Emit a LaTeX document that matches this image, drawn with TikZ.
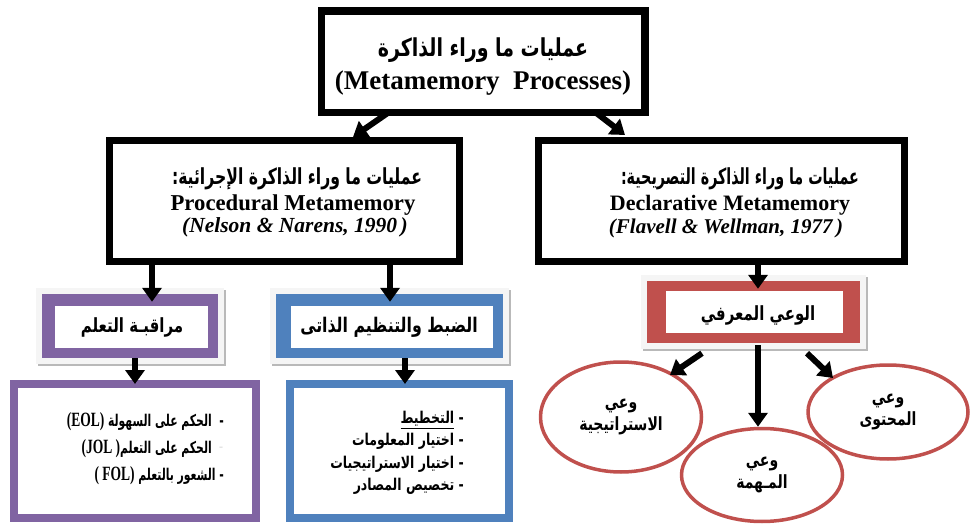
\documentclass[tikz,border=0pt]{standalone}
\usepackage{fontspec}
\usepackage{graphicx}
\setmainfont{Liberation Serif}
\newfontfamily\arabicfont[Script=Arabic]{DejaVu Sans}
\TeXXeTstate=1
\usetikzlibrary{arrows.meta,shapes.geometric,backgrounds}
\definecolor{cpur}{HTML}{8064A2}
\definecolor{cblu}{HTML}{4F81BD}
\definecolor{cred}{HTML}{C0504D}
\newcommand{\latin}[1]{\hbox{\rmfamily\bfseries\fontsize{15}{15}\selectfont #1}}
\begin{document}
\begin{tikzpicture}[x=1pt,y=-1pt,
  bigarrow/.style={line width=6pt,-{Triangle[length=14pt,width=19pt]}},
  blackframe/.style={draw=black,line width=7pt,fill=white,inner sep=0pt},
  colorbox/.style={fill=#1,inner sep=0pt},
  listframe/.style={draw=#1,line width=7pt,fill=white,inner sep=0pt},
  oval/.style={ellipse,draw=cred,line width=3.5pt,inner sep=0pt,align=center,
    font=\arabicfont\bfseries\fontsize{14}{22}\selectfont},
  artxt/.style={inner sep=0pt,align=center,font=\arabicfont\bfseries\fontsize{#1}{#1}\selectfont},
  entxt/.style={inner sep=0pt,align=center,font=\bfseries\fontsize{#1}{#1}\selectfont},
  ittxt/.style={inner sep=0pt,align=center,font=\bfseries\itshape\fontsize{#1}{#1}\selectfont}]
\useasboundingbox (0,0) rectangle (971,526);

% top box
\node[blackframe,minimum width=324pt,minimum height=102pt] (top) at (483,62) {};
\draw[line width=1.5pt] ([shift={(7,7)}]top.north west) rectangle ([shift={(-7,-7)}]top.south east);
\node[artxt=19] (t1) at (483,50) {\scalebox{1}[1.3]{\beginR عمليات ما وراء الذاكرة\endR}};
\node[entxt=27] (t2) at (483,83) {(Metamemory\ \ Processes)};

% procedural
\node[blackframe,minimum width=350pt,minimum height=121pt] (proc) at (284.5,201) {};
\draw[line width=1.5pt] ([shift={(6.5,6.5)}]proc.north west) rectangle ([shift={(-6.5,-6.5)}]proc.south east);
\node[artxt=17] (p1) at (297,179) {\scalebox{0.92}[1.3]{\beginR عمليات ما وراء الذاكرة الإجرائية\hbox{:}\endR}};
\node[entxt=22.7] (p2) at (293,205) {Procedural Metamemory};
\node[ittxt=21.5] (p3) at (295,227) {(Nelson \& Narens, 1990\,)};

% declarative
\node[blackframe,minimum width=366pt,minimum height=121pt] (decl) at (721.5,201) {};
\draw[line width=1.5pt] ([shift={(6.5,6.5)}]decl.north west) rectangle ([shift={(-6.5,-6.5)}]decl.south east);
\node[artxt=17] (d1) at (740,179) {\scalebox{0.84}[1.3]{\beginR عمليات ما وراء الذاكرة التصريحية\hbox{:}\endR}};
\node[entxt=22] (d2) at (730,205) {Declarative Metamemory};
\node[ittxt=21] (d3) at (726,228) {(Flavell \& Wellman, 1977\,)};

% coloured boxes
\node[colorbox=cpur,minimum width=176pt,minimum height=64pt] (pur) at (130,326) {};
\fill[white] ([shift={(13,12)}]pur.north west) rectangle ([shift={(-10,-10)}]pur.south east);
\node[artxt=15] (purt) at (132,327) {\scalebox{1}[1.3]{\beginR مراقبـة التعلم\endR}};

\node[colorbox=cblu,minimum width=227pt,minimum height=64pt] (blu) at (389.5,326) {};
\fill[white] ([shift={(15,12)}]blu.north west) rectangle ([shift={(-10,-10)}]blu.south east);
\node[artxt=15.5] (blut) at (389,327) {\scalebox{1.02}[1.3]{\beginR الضبط والتنظيم الذاتى\endR}};

\node[colorbox=cred,minimum width=213pt,minimum height=62pt] (red) at (753.5,312) {};
\fill[white] ([shift={(19,10)}]red.north west) rectangle ([shift={(-17,-10)}]red.south east);
\node[artxt=15] (redt) at (758,315) {\scalebox{1}[1.3]{\beginR الوعي المعرفي\endR}};

\begin{scope}[on background layer]
\foreach \n in {pur,blu,red}{
  \fill[gray!55] ([shift={(-4,-4)}]\n.north west) rectangle ([shift={(8,8)}]\n.south east);
  \fill[gray!8] ([shift={(-6,-6)}]\n.north west) rectangle ([shift={(6,6)}]\n.south east);
}
\end{scope}

% list boxes
\node[listframe=cpur,minimum width=243pt,minimum height=135pt] (lowp) at (135,451) {};
\draw[cpur,line width=1.5pt] ([shift={(7,7)}]lowp.north west) rectangle ([shift={(-7,-7)}]lowp.south east);
\node[anchor=east,align=right,inner sep=0pt,font=\arabicfont\bfseries\fontsize{12}{27}\selectfont] (lowpt) at (224,449)
 {\scalebox{0.9}[1.35]{\beginR -\ \ الحكم على السهولة \beginL\latin{(EOL)}\endL\endR}\\
  \scalebox{0.9}[1.35]{\beginR الحكم على التعلم\beginL\latin{(JOL )}\endL\endR}\kern12pt\\
  \scalebox{0.9}[1.35]{\beginR - الشعور بالتعلم \beginL\latin{( FOL)}\endL\endR}};
\node[inner sep=0pt,text=gray!30,font=\bfseries\fontsize{12}{12}\selectfont] (dash) at (221,449) {-};

\node[listframe=cblu,minimum width=220pt,minimum height=135pt] (lowb) at (399.5,451) {};
\draw[cblu,line width=1.5pt] ([shift={(7,7)}]lowb.north west) rectangle ([shift={(-7,-7)}]lowb.south east);
\node[anchor=east,align=right,inner sep=0pt,font=\arabicfont\bfseries\fontsize{12.5}{22.4}\selectfont] (lowbt) at (464,453)
 {\scalebox{1}[1.3]{\beginR - \underline{التخطيط}\endR}\\
  \scalebox{1}[1.3]{\beginR - اختيار المعلومات\endR}\\
  \scalebox{1}[1.3]{\beginR - اختيار الاستراتيجيات\endR}\\
  \scalebox{1}[1.3]{\beginR - تخصيص المصادر\endR}};

% ellipses
\node[oval,minimum width=161pt,minimum height=110pt] (e1) at (621,417)
 {\scalebox{1}[1.3]{\beginR وعي\endR}\\\scalebox{1}[1.3]{\beginR الاستراتيجية\endR}};
\node[oval,minimum width=161pt,minimum height=93pt] (e2) at (762,475)
 {\scalebox{1}[1.3]{\beginR وعي\endR}\\\scalebox{1}[1.3]{\beginR المـهمة\endR}};
\node[oval,minimum width=160pt,minimum height=94pt] (e3) at (888,412)
 {\scalebox{1}[1.3]{\beginR وعي\endR}\\\scalebox{1}[1.3]{\beginR المحتوى\endR}};

% arrows
\draw[bigarrow] ([shift={(-96,-3)}]top.south) -- ([shift={(68.5,0)}]proc.north);
\draw[bigarrow] ([shift={(114,-3)}]top.south) -- ([shift={(-96.5,-2)}]decl.north);
\draw[bigarrow] ([shift={(-132.5,0)}]proc.south) -- ([shift={(22,8)}]pur.north);
\draw[bigarrow] ([shift={(105.5,0)}]proc.south) -- ([shift={(0.5,8)}]blu.north);
\draw[bigarrow] ([shift={(36.5,0)}]decl.south) -- ([shift={(4.5,8)}]red.north);
\draw[bigarrow] ([shift={(5,0)}]pur.south) -- ([shift={(0,4)}]lowp.north);
\draw[bigarrow] ([shift={(15.5,0)}]blu.south) -- ([shift={(5.5,4)}]lowb.north);
\draw[bigarrow] ([shift={(-51.5,10)}]red.south) -- ([shift={(49,-42)}]e1.center);
\draw[bigarrow] ([shift={(4.5,2)}]red.south) -- ([shift={(-4,0)}]e2.north);
\draw[bigarrow] ([shift={(53.5,10)}]red.south) -- ([shift={(-55,-34)}]e3.center);
\end{tikzpicture}
\end{document}
